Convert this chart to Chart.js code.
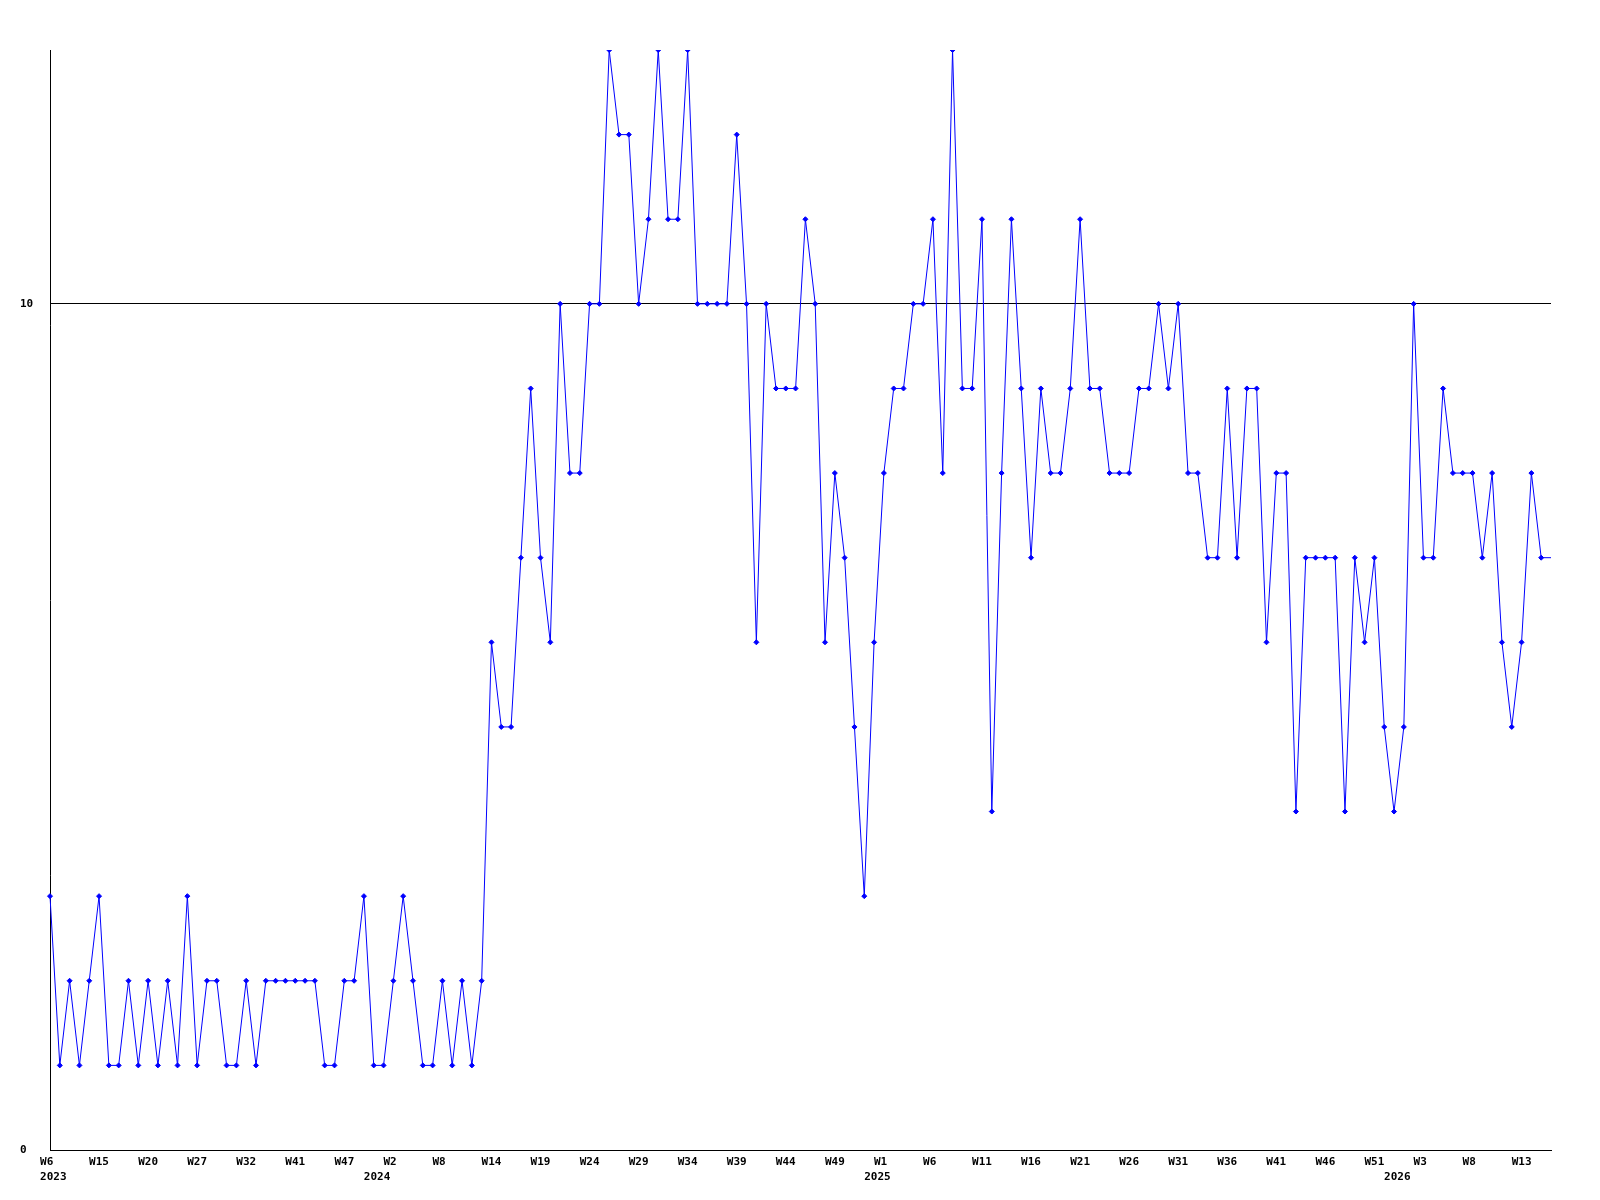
<!DOCTYPE html>
<html>
<head>
<meta charset="utf-8">
<script src="https://cdn.jsdelivr.net/npm/chart.js@4/dist/chart.umd.min.js"></script>
<style>
  html, body { margin: 0; padding: 0; background: #ffffff; }
  #wrap { width: 1600px; height: 1200px; }
  canvas { display: block; }
</style>
</head>
<body>
<div id="wrap"><canvas id="c" width="1600" height="1200" style="width:1600px;height:1200px"></canvas></div>
<script>
// ---- data ----
const weeks2023 = ['W6','W7','W9','W11','W13','W15','W16','W17','W18','W19','W20','W21','W23','W24','W26','W27','W28','W29','W30','W31','W32','W34','W36','W38','W40','W41','W42','W43','W44','W46','W47','W48','W50','W52'];
const weeks2024 = ['W1','W2','W3','W5','W6','W7','W8','W9','W10','W12','W13','W14','W15','W16','W17','W18','W19','W20','W21','W22','W23','W24','W25','W26','W27','W28','W29','W30','W31','W32','W33','W34','W35','W36','W37','W38','W39','W40','W41','W42','W43','W44','W45','W46','W47','W48','W49','W50','W51','W52'];
const weeks2025 = ['W0','W1','W2','W3','W4','W5','W6','W7','W8','W9','W10','W11','W12','W13','W14','W15','W16','W17','W18','W19','W20','W21','W22','W23','W24','W25','W26','W27','W28','W29','W30','W31','W32','W33','W34','W35','W36','W37','W38','W39','W40','W41','W42','W43','W44','W45','W46','W47','W48','W49','W50','W51','W52'];
const weeks2026 = ['W0','W1','W2','W3','W4','W5','W6','W7','W8','W9','W10','W11','W12','W13','W14','W15','W16'];

const categories = [].concat(
  weeks2023.map(w => '2023 ' + w),
  weeks2024.map(w => '2024 ' + w),
  weeks2025.map(w => '2025 ' + w),
  weeks2026.map(w => '2026 ' + w)
);

const values = [
  3,1,2,1,2,3,1,1,2,1, 2,1,2,1,3,1,2,2,1,1,
  2,1,2,2,2,2,2,2,1,1, 2,2,3,1,1,2,3,2,1,1,
  2,1,2,1,2,6,5,5,7,9, 7,6,10,8,8,10,10,13,12,12,
  10,11,13,11,11,13,10,10,10,10, 12,10,6,10,9,9,9,11,10,6,
  8,7,5,3,6,8,9,9,10,10, 11,8,13,9,9,11,4,8,11,9,
  7,9,8,8,9,11,9,9,8,8, 8,9,9,10,9,10,8,8,7,7,
  9,7,9,9,6,8,8,4,7,7, 7,7,4,7,6,7,5,4,5,10,
  7,7,9,8,8,8,7,8,6,5, 6,8,7,7
];

// x tick labels shown every 5th category
const weekTickLabels = ['W6','W15','W20','W27','W32','W41','W47','W2','W8','W14','W19','W24','W29','W34','W39','W44','W49','W1','W6','W11','W16','W21','W26','W31','W36','W41','W46','W51','W3','W8','W13'];
const weekTickStep = 5;
// year labels (second line) and the category index they sit under
const yearTickIndex = [0, 33, 84, 137];
const yearTickText = ['2023', '2024', '2025', '2026'];

// y ticks
const yTickValues = [0, 10];
const yMin = 0;
const yMax = 13;

// ---- chart ----
const FONT = { family: "'DejaVu Sans Mono', 'Liberation Mono', monospace", size: 11, weight: 'bold', lineHeight: '15px' };

function padTo3(s) { return s.length < 3 ? s + ' '.repeat(3 - s.length) : s; }

const pointRadii = values.map((v, i) => (i === values.length - 1 ? 0 : 2.5));

new Chart(document.getElementById('c'), {
  type: 'line',
  data: {
    labels: categories,
    datasets: [{
      data: values,
      borderColor: '#0000ff',
      backgroundColor: '#0000ff',
      borderWidth: 1,
      tension: 0,
      fill: false,
      pointStyle: 'rectRot',
      pointRadius: pointRadii,
      pointBorderWidth: 1,
      pointBorderColor: '#0000ff',
      pointBackgroundColor: '#0000ff'
    }]
  },
  options: {
    responsive: false,
    animation: false,
    events: [],
    layout: { padding: { left: 20, right: 49, top: 50, bottom: 0 } },
    plugins: { legend: { display: false }, tooltip: { enabled: false }, title: { display: false } },
    scales: {
      x: {
        type: 'category',
        offset: false,
        grid: { display: true, drawOnChartArea: false, drawTicks: false },
        border: { display: true, color: '#000000', width: 1 },
        afterFit: s => { s.height = 50; },
        ticks: {
          autoSkip: false,
          maxRotation: 0,
          minRotation: 0,
          padding: 5,
          color: '#000000',
          font: FONT,
          callback: function (value, index) {
            let week = '';
            if (index % weekTickStep === 0 && weekTickLabels[index / weekTickStep] !== undefined) {
              week = padTo3(weekTickLabels[index / weekTickStep]);
            }
            const yi = yearTickIndex.indexOf(index);
            if (yi >= 0) {
              return [week, ' ' + yearTickText[yi]];
            }
            return week;
          }
        }
      },
      y: {
        min: yMin,
        max: yMax,
        afterBuildTicks: s => { s.ticks = yTickValues.map(v => ({ value: v })); },
        afterFit: s => { s.width = 30; },
        grid: { display: true, color: '#000000', lineWidth: 1, drawTicks: false },
        border: { display: true, color: '#000000', width: 1 },
        ticks: {
          crossAlign: 'far',
          padding: 0,
          color: '#000000',
          font: FONT,
          callback: v => String(v)
        }
      }
    }
  }
});
</script>
</body>
</html>
